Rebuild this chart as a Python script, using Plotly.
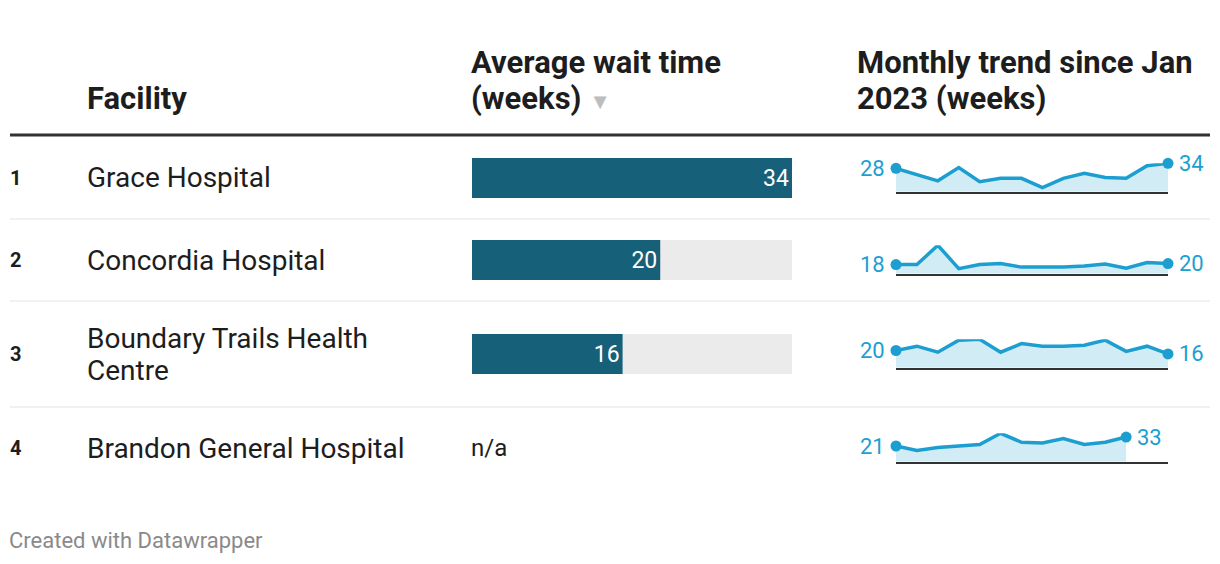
import textwrap
import plotly.graph_objects as go

# ---------------- data ----------------
ranks = [1, 2, 3, 4]
facilities = ["Grace Hospital", "Concordia Hospital",
              "Boundary Trails Health Centre", "Brandon General Hospital"]
avg_wait = [34, 20, 16, None]
trend_grace = [28, 20, 13, 29, 12, 16, 16, 5, 16, 22, 17, 16, 31, 34]
trend_concordia = [18, 18, 56, 10, 18, 20, 13, 13, 13, 15, 19, 11, 22, 20]
trend_boundary = [20, 25, 18, 32, 33, 18, 28, 25, 25, 26, 32, 19, 25, 16]
trend_brandon = [21, 15, 19, 21, 23, 38, 26, 25, 31, 23, 26, 33]
trends = [trend_grace, trend_concordia, trend_boundary, trend_brandon]
n_months = 14  # Jan 2023 .. Feb 2024

header_facility = "Facility"
header_avg = ["Average wait time", "(weeks)"]
header_trend = ["Monthly trend since Jan", "2023 (weeks)"]
footer = "Created with Datawrapper"

# ---------------- style ----------------
W, H = 1220, 564
FONT = "Roboto"
TXT = "#1d1d1d"
BAR = "#17607a"
TRACK = "#ebebeb"
SPARK = "#1c9fd0"
SPARK_FILL = "#d1ecf5"

def px(x):
    return x / W

def py(y):
    return 1 - y / H

row_centers = [178, 260, 354, 448]
separators = [219, 301, 407]
LINE_GAP = 32

fig = go.Figure()
annotations = []
shapes = []
layout_axes = {}

def txt(x, y, s, size=28, color=TXT, bold=False, xanchor="left"):
    annotations.append(dict(
        x=px(x), y=py(y), xref="paper", yref="paper", text=(f"<b>{s}</b>" if bold else s),
        showarrow=False, xanchor=xanchor, yanchor="middle", xshift=-3,
        font=dict(family=FONT, size=size, color=color), align="left"))

HS = 31
txt(88, 99, header_facility, size=HS, bold=True)
txt(472, 63, header_avg[0], size=HS, bold=True)
txt(472, 99, f"<b>{header_avg[1]}</b> <span style='color:#bdbdbd;font-size:22px'>▼</span>", size=HS)
txt(858, 63, header_trend[0], size=HS, bold=True)
txt(858, 99, header_trend[1], size=HS, bold=True)
txt(10, 540, footer, size=22, color="#8a8a8a")

shapes.append(dict(type="line", xref="paper", yref="paper", x0=px(10), x1=px(1210),
                   y0=py(135), y1=py(135), line=dict(color="#333333", width=3)))
for s in separators:
    shapes.append(dict(type="line", xref="paper", yref="paper", x0=px(10), x1=px(1210),
                       y0=py(s), y1=py(s), line=dict(color="#e2e2e2", width=1)))

bar_max = max(v for v in avg_wait if v is not None)
ax = 1
for i, (rk, name, val, tr) in enumerate(zip(ranks, facilities, avg_wait, trends)):
    cy = row_centers[i]
    txt(11, cy, str(rk), size=20, bold=True)
    lines = textwrap.wrap(name, 24)
    top = cy - (len(lines) - 1) * LINE_GAP / 2
    for j, ln in enumerate(lines):
        txt(88, top + j * LINE_GAP, ln, size=28)

    # ---- bar column ----
    if val is None:
        txt(472, cy, "n/a", size=24)
    else:
        xa, ya = f"x{ax}", f"y{ax}"
        fig.add_trace(go.Bar(x=[bar_max], y=[0], orientation="h", width=1,
                             marker=dict(color=TRACK, line=dict(width=0)),
                             hoverinfo="skip", xaxis=xa, yaxis=ya, showlegend=False))
        fig.add_trace(go.Bar(x=[val], y=[0], orientation="h", width=1,
                             marker=dict(color=BAR, line=dict(width=0)),
                             text=[str(val)], textposition="inside", insidetextanchor="end",
                             textfont=dict(family=FONT, size=23, color="white"),
                             hoverinfo="skip", xaxis=xa, yaxis=ya, showlegend=False))
        k = "" if ax == 1 else str(ax)
        layout_axes[f"xaxis{k}"] = dict(domain=[px(472), px(792)], range=[0, bar_max],
                                        visible=False, fixedrange=True, anchor=ya)
        layout_axes[f"yaxis{k}"] = dict(domain=[py(cy + 20), py(cy - 20)], range=[-0.5, 0.5],
                                        visible=False, fixedrange=True, anchor=xa)
        ax += 1

    # ---- sparkline column ----
    xa, ya = f"x{ax}", f"y{ax}"
    months = list(range(len(tr)))
    fig.add_trace(go.Scatter(x=months, y=tr, mode="lines", fill="tozeroy",
                             fillcolor=SPARK_FILL, line=dict(color=SPARK, width=3.5),
                             hoverinfo="skip", xaxis=xa, yaxis=ya, showlegend=False,
                             cliponaxis=False))
    fig.add_trace(go.Scatter(x=[months[0], months[-1]], y=[tr[0], tr[-1]], mode="markers",
                             marker=dict(color=SPARK, size=11), hoverinfo="skip",
                             xaxis=xa, yaxis=ya, showlegend=False, cliponaxis=False))
    annotations.append(dict(x=months[0], y=tr[0], xref=xa, yref=ya, text=str(tr[0]),
                            showarrow=False, xanchor="right", yanchor="middle", xshift=-9,
                            font=dict(family=FONT, size=22, color=SPARK)))
    annotations.append(dict(x=months[-1], y=tr[-1], xref=xa, yref=ya, text=str(tr[-1]),
                            showarrow=False, xanchor="left", yanchor="middle", xshift=9,
                            font=dict(family=FONT, size=22, color=SPARK)))
    base = cy + 13.7
    k = str(ax)
    layout_axes[f"xaxis{k}"] = dict(domain=[px(896), px(1168)], range=[0, n_months - 1],
                                    showline=True, linecolor="#333333", linewidth=2,
                                    showgrid=False, zeroline=False, showticklabels=False,
                                    ticks="", fixedrange=True, anchor=ya)
    layout_axes[f"yaxis{k}"] = dict(domain=[py(base), py(base - 28.4)], range=[0, max(tr)],
                                    visible=False, fixedrange=True, anchor=xa)
    ax += 1

fig.update_layout(
    width=W, height=H, margin=dict(l=0, r=0, t=0, b=0),
    paper_bgcolor="white", plot_bgcolor="rgba(0,0,0,0)",
    barmode="overlay", annotations=annotations, shapes=shapes,
    font=dict(family=FONT, color=TXT), showlegend=False, hovermode=False,
    **layout_axes)

fig.write_html("out.html", config={"displayModeBar": False},
               post_script="document.body.style.margin='0';document.body.style.padding='0';")
